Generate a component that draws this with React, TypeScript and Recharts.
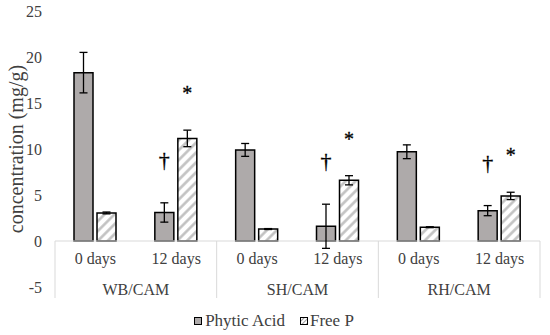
import { Bar, BarChart, ErrorBar, LabelList, Legend, ReferenceLine, XAxis, YAxis } from "recharts";

const periods = ["0 days", "12 days", "0 days", "12 days", "0 days", "12 days"];
const groups = ["WB/CAM", "SH/CAM", "RH/CAM"];
const phyticAcid = [18.3, 3.1, 9.9, 1.6, 9.7, 3.3];
const phyticAcidErr = [2.2, 1.05, 0.7, 2.4, 0.75, 0.55];
const freeP = [3.05, 11.15, 1.3, 6.6, 1.5, 4.9];
const freePErr = [0.1, 0.9, 0.05, 0.5, 0.05, 0.4];
const phyticMarks = ["", "†", "", "†", "", "†"];
const freePMarks = ["", "*", "", "*", "", "*"];
const yTicks = [-5, 0, 5, 10, 15, 20, 25];

const data = periods.map((period, i) => ({
  key: `${groups[Math.floor(i / 2)]} ${period}`,
  period,
  group: groups[Math.floor(i / 2)],
  phytic: phyticAcid[i],
  phyticErr: phyticAcidErr[i],
  phyticMark: phyticMarks[i],
  freeP: freeP[i],
  freePErr: freePErr[i],
  freePMark: freePMarks[i],
}));

const FONT = "Liberation Serif, Times New Roman, serif";
const TEXT = "#404040";
const GRID = "#d9d9d9";
const PHYTIC = "#aeaaaa";

const W = 550;
const H = 335;
const MARGIN = { top: 11, right: 10, left: 0, bottom: 0 };
const Y_AXIS_W = 55;
const X_AXIS_H = 28;
const LEGEND_H = 20;
const Y_MIN = -5;
const Y_MAX = 25;
const PLOT_W = W - Y_AXIS_W - MARGIN.right - MARGIN.left;
const PLOT_H = H - MARGIN.top - X_AXIS_H - LEGEND_H;
const BAND = PLOT_W / periods.length;

function CategoryTick(props: any) {
  const { x, y, payload } = props;
  const i = payload.index;
  const row = data[i];
  // x axis crosses at 0, so the label table hangs under the zero line
  const zeroY = y - (PLOT_H * (0 - Y_MIN)) / (Y_MAX - Y_MIN);
  return (
    <g>
      <text x={x} y={zeroY + 23} textAnchor="middle" fontSize={16} fill={TEXT} style={{ fontFamily: FONT }}>
        {row.period}
      </text>
      {i % 2 === 1 && (
        <text x={x - BAND / 2} y={zeroY + 54} textAnchor="middle" fontSize={16} fill={TEXT} style={{ fontFamily: FONT }}>
          {row.group}
        </text>
      )}
      {i % 2 === 0 && <line x1={x - BAND / 2} x2={x - BAND / 2} y1={zeroY} y2={zeroY + 57} stroke={GRID} />}
      {i === data.length - 1 && <line x1={x + BAND / 2} x2={x + BAND / 2} y1={zeroY} y2={zeroY + 57} stroke={GRID} />}
    </g>
  );
}

function makeMark(values: number[], errs: number[], lift: number, size: number) {
  return function Mark(props: any) {
    const { x, y, width, height, value, index } = props;
    if (!value) return null;
    const perUnit = height / values[index];
    const top = y - errs[index] * perUnit;
    return (
      <text x={x + width / 2} y={top - lift} textAnchor="middle" fontSize={size} fill="#000" stroke="#000" strokeWidth={0.3} style={{ fontFamily: FONT }}>
        {value}
      </text>
    );
  };
}

function YTitle(props: any) {
  const { viewBox } = props;
  const cx = 16;
  const cy = viewBox.y + viewBox.height / 2;
  return (
    <text x={cx} y={cy} transform={`rotate(-90, ${cx}, ${cy})`} textAnchor="middle" dominantBaseline="central" fontSize={20} fill={TEXT} style={{ fontFamily: FONT }}>
      concentration (mg/g)
    </text>
  );
}

function LegendContent() {
  return (
    <div style={{ display: "flex", justifyContent: "center", alignItems: "center", height: LEGEND_H, fontFamily: FONT, fontSize: 17, color: TEXT }}>
      <svg width={8} height={8}>
        <rect x={0.5} y={0.5} width={7} height={7} fill={PHYTIC} stroke="#000" />
      </svg>
      <span style={{ marginLeft: 3, marginRight: 15 }}>Phytic Acid</span>
      <svg width={8} height={8}>
        <defs>
          <pattern id="hatchLegend" patternUnits="userSpaceOnUse" width={3} height={3} patternTransform="rotate(45)">
            <rect width={3} height={3} fill="#fff" />
            <line x1={0} y1={0} x2={0} y2={3} stroke="#a0a0a0" strokeWidth={2} />
          </pattern>
        </defs>
        <rect x={0.5} y={0.5} width={7} height={7} fill="url(#hatchLegend)" stroke="#000" />
      </svg>
      <span style={{ marginLeft: 2 }}>Free P</span>
    </div>
  );
}

export default function App() {
  return (
    <div style={{ position: "absolute", left: 0, top: 0, width: W, height: H, fontFamily: FONT }}>
      <BarChart width={W} height={H} data={data} margin={MARGIN} barSize={19} barGap={4} style={{ fontFamily: FONT }}>
        <defs>
          <pattern id="hatch" patternUnits="userSpaceOnUse" width={7} height={7} patternTransform="rotate(45)">
            <rect width={7} height={7} fill="#fff" />
            <line x1={1.5} y1={0} x2={1.5} y2={7} stroke="#bfbfbf" strokeWidth={2.5} />
          </pattern>
        </defs>
        <XAxis dataKey="key" height={X_AXIS_H} axisLine={false} tickLine={false} tickSize={0} tickMargin={0} interval={0} tick={<CategoryTick />} />
        <YAxis
          width={Y_AXIS_W}
          domain={[Y_MIN, Y_MAX]}
          ticks={yTicks}
          axisLine={false}
          tickLine={false}
          tickSize={0}
          tickMargin={13}
          tick={{ fontSize: 16, fill: TEXT, style: { fontFamily: FONT } }}
          label={<YTitle />}
        />
        <ReferenceLine y={0} stroke={GRID} strokeWidth={1} />
        <Legend verticalAlign="bottom" height={LEGEND_H} wrapperStyle={{ bottom: 4, left: 4 }} content={<LegendContent />} />
        <Bar dataKey="phytic" name="Phytic Acid" fill={PHYTIC} stroke="#000" strokeWidth={1.5} isAnimationActive={false}>
          <ErrorBar dataKey="phyticErr" width={4} stroke="#000" strokeWidth={1.3} />
          <LabelList dataKey="phyticMark" content={makeMark(phyticAcid, phyticAcidErr, 36, 22)} />
        </Bar>
        <Bar dataKey="freeP" name="Free P" fill="url(#hatch)" stroke="#000" strokeWidth={1.5} isAnimationActive={false}>
          <ErrorBar dataKey="freePErr" width={4} stroke="#000" strokeWidth={1.3} />
          <LabelList dataKey="freePMark" content={makeMark(freeP, freePErr, 30, 20)} />
        </Bar>
      </BarChart>
    </div>
  );
}
